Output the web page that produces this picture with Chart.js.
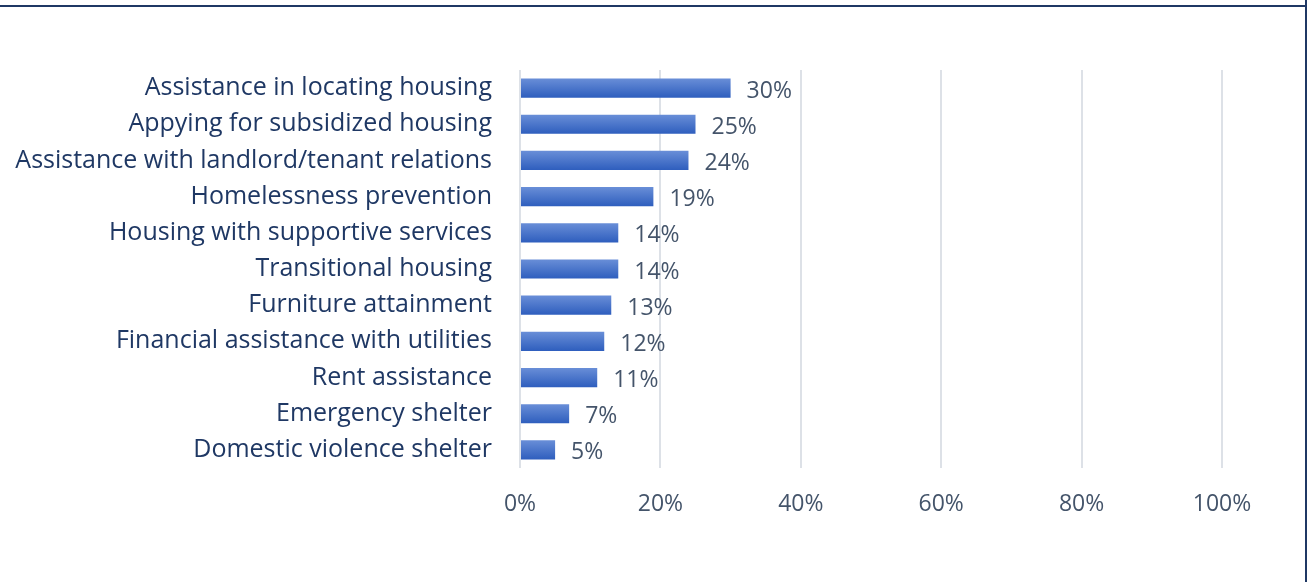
<!DOCTYPE html>
<html>
<head>
<meta charset="utf-8">
<script src="https://cdn.jsdelivr.net/npm/chart.js@4"></script>
<style>
  html, body { margin: 0; padding: 0; background: #fff; }
  #wrap { position: relative; width: 1307px; height: 582px; }
  #topLine { position: absolute; left: 0; top: 5px; width: 1307px; height: 2px; background: #1f3864; }
  #rightLine { position: absolute; left: 1305px; top: 0; width: 2px; height: 582px; background: #1f3864; }
  canvas { position: absolute; left: 0; top: 0; }
</style>
</head>
<body>
<div id="wrap">
  <canvas id="servicesChart" width="1307" height="582"></canvas>
  <div id="topLine"></div>
  <div id="rightLine"></div>
</div>
<script>
const services = [
    'Assistance in locating housing',
    'Appying for subsidized housing',
    'Assistance with landlord/tenant relations',
    'Homelessness prevention',
    'Housing with supportive services',
    'Transitional housing',
    'Furniture attainment',
    'Financial assistance with utilities',
    'Rent assistance',
    'Emergency shelter',
    'Domestic violence shelter'
]
const percents = [30, 25, 24, 19, 14, 14, 13, 12, 11, 7, 5]
const xTicks = [0, 20, 40, 60, 80, 100]

const fontName = '"Open Sans", "Noto Sans", sans-serif'

// etiquetas de valor al final de cada barra
const valueLabels = {
    id: 'valueLabels',
    afterDatasetsDraw(chart) {
        const ctx = chart.ctx
        const meta = chart.getDatasetMeta(0)
        ctx.save()
        ctx.font = '23px ' + fontName
        ctx.fillStyle = '#44546a'
        ctx.textBaseline = 'middle'
        ctx.textAlign = 'left'
        meta.data.forEach((bar, i) => {
            ctx.fillText(percents[i] + '%', bar.x + 16, bar.y + 3)
        })
        ctx.restore()
    }
}

// degradado vertical en cada barra
const barFill = context => {
    const chart = context.chart
    if (!chart.chartArea || context.dataIndex === undefined) return '#4472c4'
    const yc = chart.scales.y.getPixelForValue(context.dataIndex)
    const g = chart.ctx.createLinearGradient(0, yc - 10, 0, yc + 10)
    g.addColorStop(0, '#6a8fd8')
    g.addColorStop(1, '#2d5dbd')
    return g
}

const data = {
    labels: services,
    datasets: [{
        data: percents,
        backgroundColor: barFill,
        barPercentage: 0.53,
        categoryPercentage: 1
    }]
}

const options = {
    indexAxis: 'y',
    responsive: false,
    animation: false,
    layout: { padding: { left: 0, right: 85, top: 70, bottom: 0 } },
    plugins: {
        legend: { display: false },
        tooltip: { enabled: false }
    },
    scales: {
        x: {
            min: 0,
            max: 100,
            afterFit: scale => { scale.height = 582 - 468 },
            afterBuildTicks: scale => { scale.ticks = xTicks.map(v => ({ value: v })) },
            grid: { color: '#dde1e7', lineWidth: 2, drawTicks: false },
            border: { display: false },
            ticks: {
                padding: 23,
                color: '#44546a',
                font: { family: fontName, size: 23 },
                callback: v => v + '%'
            }
        },
        y: {
            afterFit: scale => { scale.width = 520 },
            grid: { display: false, drawTicks: false },
            border: { display: false },
            ticks: {
                padding: 28,
                color: '#1f3864',
                font: { family: fontName, size: 25 }
            }
        }
    }
}

new Chart('servicesChart', { type: 'bar', data, options, plugins: [valueLabels] })
</script>
</body>
</html>
